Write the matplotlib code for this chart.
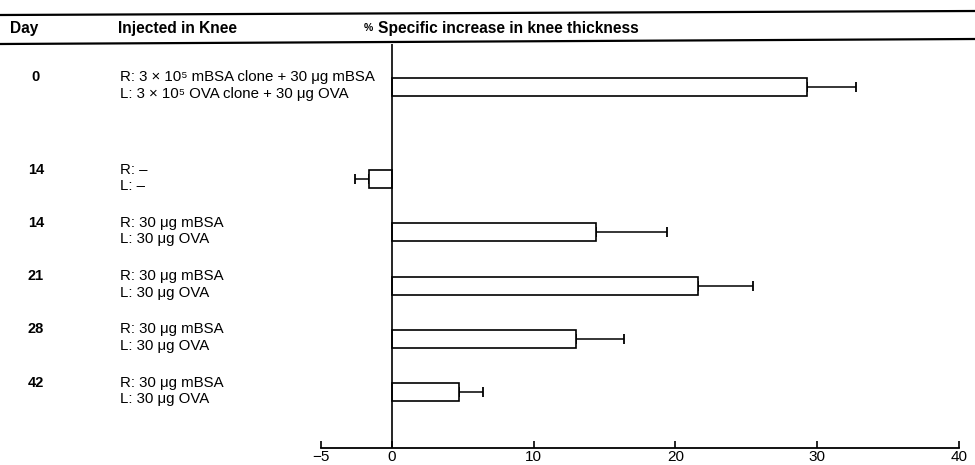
import matplotlib
matplotlib.use("Agg")
import matplotlib.pyplot as plt
from matplotlib.lines import Line2D
from matplotlib import transforms

plt.rcParams['font.family'] = ['Liberation Sans', 'DejaVu Sans']

# Data
days = ["0", "14", "14", "21", "28", "42"]
right_knee = ["R: 3 × 10⁵ mBSA clone + 30 μg mBSA", "R: –",
              "R: 30 μg mBSA", "R: 30 μg mBSA", "R: 30 μg mBSA", "R: 30 μg mBSA"]
left_knee = ["L: 3 × 10⁵ OVA clone + 30 μg OVA", "L: –",
             "L: 30 μg OVA", "L: 30 μg OVA", "L: 30 μg OVA", "L: 30 μg OVA"]
increase = [29.3, -1.6, 14.4, 21.6, 13.0, 4.7]
error = [3.4, 1.0, 5.0, 3.9, 3.4, 1.7]
x_ticks = [-5, 0, 10, 20, 30, 40]
x_tick_labels = ["−5", "0", "10", "20", "30", "40"]

# Row layout (first row set apart from the others)
row_pos = [0.0, 1.73, 2.73, 3.73, 4.73, 5.73]

W, H = 975, 465
fig = plt.figure(figsize=(W / 100, H / 100), dpi=100)
fig.patch.set_facecolor('white')

# Axes spanning -5..40 horizontally
ax_left, ax_right = 321 / W, 959 / W
top_px, bottom_px = 44, 448
ax_top, ax_bottom = 1 - top_px / H, 1 - bottom_px / H
ax = fig.add_axes([ax_left, ax_bottom, ax_right - ax_left, ax_top - ax_bottom])
ax.set_xlim(-5, 40)
unit = 53.25
ax.set_ylim((bottom_px - 87) / unit, (top_px - 87) / unit)

ax.barh(row_pos, increase, height=0.34, color='white', edgecolor='black',
        linewidth=1.2, zorder=2)
xerr_lo = [e if v < 0 else 0 for v, e in zip(increase, error)]
xerr_hi = [0 if v < 0 else e for v, e in zip(increase, error)]
ax.errorbar(increase, row_pos, xerr=[xerr_lo, xerr_hi], fmt='none',
            ecolor='black', elinewidth=1.1, capsize=3.6, capthick=1.3, zorder=1)

ax.axvline(0, color='black', linewidth=1.2, zorder=3)

for side in ('left', 'right', 'top'):
    ax.spines[side].set_visible(False)
ax.spines['bottom'].set_linewidth(1.3)
ax.set_yticks([])
ax.set_xticks(x_ticks)
ax.set_xticklabels(x_tick_labels, fontsize=11)
ax.tick_params(axis='x', direction='in', length=5, width=1.2, pad=1.5)

# Text columns in figure x, data y
trans = transforms.blended_transform_factory(fig.transFigure, ax.transData)
body = 10.8
for pos, d, r, l in zip(row_pos, days, right_knee, left_knee):
    fig.text(36 / W, pos - 0.18, d, transform=trans, ha='center', va='center',
             fontsize=10.5, fontweight='bold')
    fig.text(120 / W, pos - 0.18, r, transform=trans, ha='left', va='center',
             fontsize=body)
    fig.text(120 / W, pos + 0.13, l, transform=trans, ha='left', va='center',
             fontsize=body)

# Header rules and titles
fig.add_artist(Line2D([0.0, 1.0], [1 - 15 / H, 1 - 11 / H], transform=fig.transFigure,
                      color='black', linewidth=1.6))
fig.add_artist(Line2D([0.0, 1.0], [1 - 44 / H, 1 - 39 / H], transform=fig.transFigure,
                      color='black', linewidth=1.6))
hy = 1 - 28 / H
head = 11.2
fig.text(10 / W, hy, "Day", ha='left', va='center', fontsize=head, fontweight='bold')
fig.text(118 / W, hy, "Injected in Knee", ha='left', va='center', fontsize=head,
         fontweight='bold')
fig.text(364 / W, hy, "%", ha='left', va='center', fontsize=7.5, fontweight='bold')
fig.text(378 / W, hy, "Specific increase in knee thickness", ha='left', va='center',
         fontsize=head, fontweight='bold')

fig.savefig("out.png", dpi=100, facecolor='white')
